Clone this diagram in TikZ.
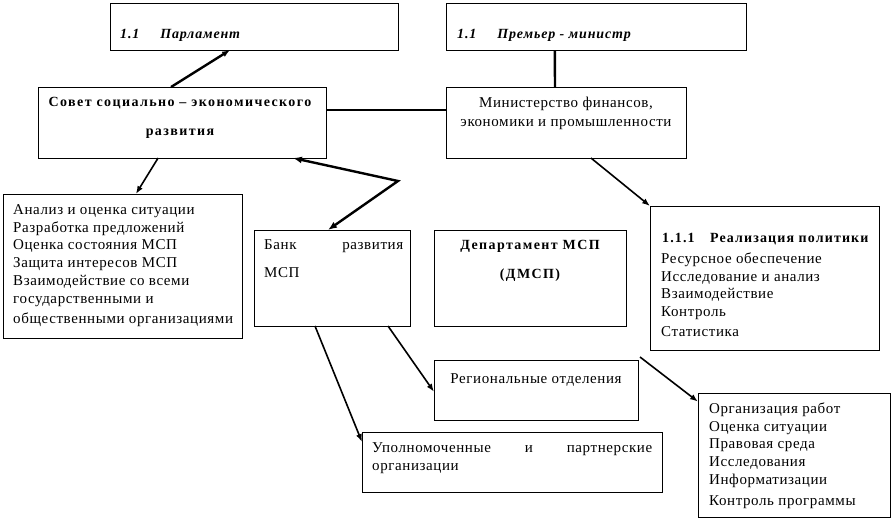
\documentclass[tikz,border=0pt]{standalone}
\usepackage{fontspec}
\setmainfont{Liberation Serif}
\usetikzlibrary{calc,arrows.meta}
\newcommand\firststrut{\rule{0pt}{12pt}}
\begin{document}
\begin{tikzpicture}[x=1pt,y=-1pt,
  box/.style={draw,line width=0.9pt,inner sep=0pt,outer sep=0pt,anchor=north west},
  txt/.style={inner sep=0pt,anchor=north west,font=\fontsize{15}{17.8}\selectfont\addfontfeature{LetterSpace=4},align=left},
  ctxt/.style={inner sep=0pt,anchor=north,font=\fontsize{15}{17.8}\selectfont\addfontfeature{LetterSpace=4},align=center},
  btxt/.style={inner sep=0pt,anchor=north,font=\fontsize{14}{29}\selectfont\bfseries\addfontfeature{LetterSpace=10},align=center},
  itxt/.style={inner sep=0pt,anchor=base west,font=\fontsize{14}{17}\selectfont\bfseries\itshape\addfontfeature{LetterSpace=6}},
  conn/.style={line width=1.6pt},
  thick conn/.style={line width=2.4pt},
  tip/.style={-{Latex[length=8pt,width=6pt]}}
]
\useasboundingbox (0,0) rectangle (894,520);
% boxes
\node[box,minimum width=288,minimum height=47] (parl) at (110,3) {};
\node[box,minimum width=300,minimum height=47] (prem) at (446,3) {};
\node[box,minimum width=288,minimum height=71] (sovet) at (38,87) {};
\node[box,minimum width=240,minimum height=71] (min) at (446,87) {};
\node[box,minimum width=239,minimum height=144] (anal) at (3,194) {};
\node[box,minimum width=156,minimum height=96] (bank) at (254,230) {};
\node[box,minimum width=192,minimum height=96] (dep) at (434,230) {};
\node[box,minimum width=229,minimum height=144] (real) at (650,206) {};
\node[box,minimum width=204,minimum height=60] (reg) at (434,360) {};
\node[box,minimum width=300,minimum height=60] (upol) at (362,432) {};
\node[box,minimum width=192,minimum height=124] (org) at (698,393) {};
% texts (north = first baseline - 12)
\node[itxt] (parlt) at (120,38) {1.1\hspace{1.5em}Парламент};
\node[itxt] (premt) at (457,38) {1.1\hspace{1.5em}Премьер - министр};
\node[btxt] (sovett) at (180,94) {\firststrut Совет социально – экономического\\развития};
\node[ctxt] (mint) at (566,95) {\firststrut Министерство финансов,\\[1pt]экономики и промышленности};
\node[txt] (analt) at (13,202) {\firststrut Анализ и оценка ситуации\\Разработка предложений\\Оценка состояния МСП\\Защита интересов МСП\\Взаимодействие со всеми\\государственными и\\[2pt]общественными организациями};
\node[txt,text width=139] (bankt) at (264,237) {\firststrut Банк\hfill развития\\[10pt]МСП};
\node[btxt] (dept) at (530,237) {\firststrut Департамент МСП\\(ДМСП)};
\node[inner sep=0pt,anchor=base west,font=\fontsize{14}{17}\selectfont\bfseries\addfontfeature{LetterSpace=8}] (realh) at (662,242) {1.1.1\hspace{1.1em}Реализация политики};
\node[txt] (realt) at (661,251) {\firststrut Ресурсное обеспечение\\Исследование и анализ\\Взаимодействие\\Контроль\\[2pt]Статистика};
\node[ctxt] (regt) at (536,371) {\firststrut Региональные отделения};
\node[txt,text width=280] (upolt) at (372,440) {\firststrut Уполномоченные\hfill и\hfill партнерские\\организации};
\node[txt] (orgt) at (709,401) {\firststrut Организация работ\\Оценка ситуации\\Правовая среда\\Исследования\\Информатизации\\[3pt]Контроль программы};
% connectors
\coordinate (bend) at (398,181);
\coordinate (free) at (640,357);
\draw[thick conn,tip] ($(sovet.north west)!0.462!(sovet.north east)$) -- ($(parl.south west)!0.417!(parl.south east)$);
\draw[thick conn] ($(prem.south west)!0.363!(prem.south east)$) -- ($(min.north west)!0.454!(min.north east)$);
\draw[thick conn] ($(sovet.north east)!0.324!(sovet.south east)$) coordinate (sr) -- (sr -| min.west);
\draw[conn,tip] ($(sovet.south west)!0.417!(sovet.south east)$) -- ($(anal.north west)!0.556!(anal.north east)$);
\draw[thick conn,{Latex[length=9pt,width=7pt]}-{Latex[length=9pt,width=7pt]}] ($(sovet.south west)!0.885!(sovet.south east)$) -- (bend) -- ($(bank.north west)!0.474!(bank.north east)$);
\draw[conn,tip] ($(min.south west)!0.604!(min.south east)$) -- (real.north west);
\draw[conn,tip] ($(bank.south west)!0.391!(bank.south east)$) -- ($(upol.north west)!0.167!(upol.south west)$);
\draw[conn,tip] ($(bank.south west)!0.859!(bank.south east)$) -- ($(reg.north west)!0.53!(reg.south west)$);
\draw[conn,tip] (free) -- ($(org.north west)!0.07!(org.south west)$);
\end{tikzpicture}
\end{document}
